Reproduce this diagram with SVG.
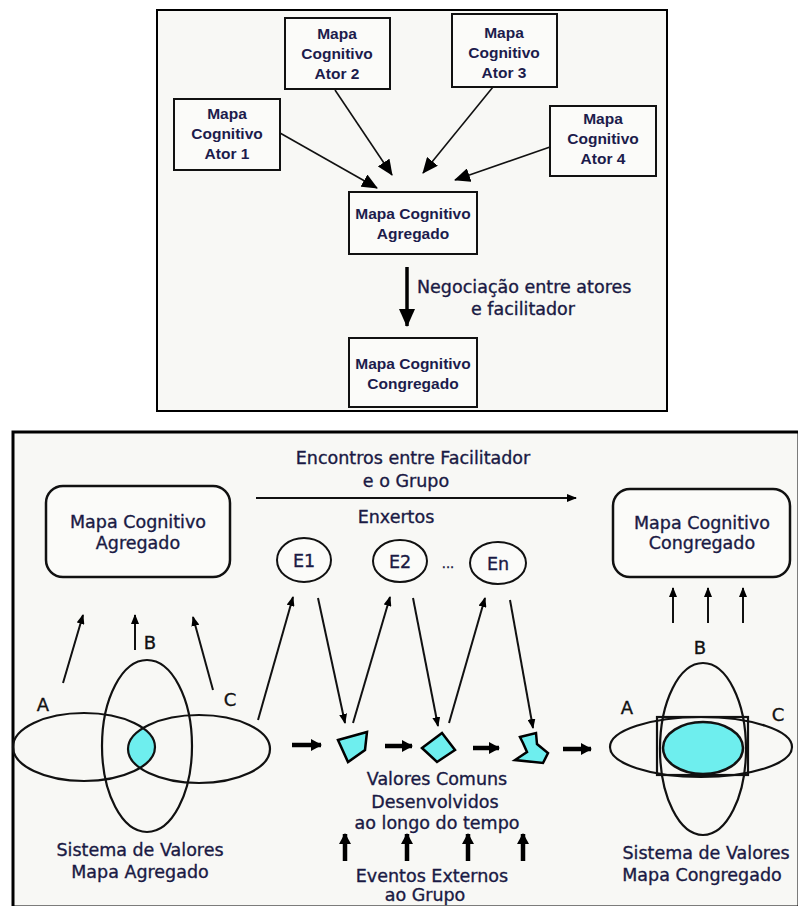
<svg xmlns="http://www.w3.org/2000/svg" width="798" height="906" viewBox="0 0 798 906">
  <style>
    .panel { fill: #f8f8f5; stroke: #000; }
    .box { fill: #fbfbf9; stroke: #111; stroke-width: 2; }
    .rbox { fill: #fbfbf9; stroke: #111; stroke-width: 2.5; }
    .t1 { font-family: "Liberation Sans", Arial, sans-serif; font-weight: bold; font-size: 15.5px; fill: #1c1c4c; text-anchor: middle; }
    .t2 { font-family: "DejaVu Sans", Verdana, sans-serif; font-size: 17.5px; fill: #1a1a44; stroke: #1a1a44; stroke-width: 0.35; text-anchor: middle; }
    .lbl { font-family: "DejaVu Sans", Verdana, sans-serif; font-size: 18px; fill: #111; stroke: #111; stroke-width: 0.35; text-anchor: middle; }
    .thin { fill: none; stroke: #111; stroke-width: 1.6; }
    .line { fill: none; stroke: #111; stroke-width: 2; }
    .thick { fill: none; stroke: #000; stroke-width: 4.5; }
    .venn { fill: none; stroke: #111; stroke-width: 2.2; }
    .cyan { fill: #6eeeee; }
  </style>
  <defs>
    <marker id="headL" markerUnits="userSpaceOnUse" viewBox="0 0 16 14" markerWidth="16" markerHeight="14" refX="15" refY="7" orient="auto">
      <path d="M0,0 L16,7 L0,14 z" fill="#000"/>
    </marker>
    <marker id="headN" markerUnits="userSpaceOnUse" viewBox="0 0 18 16" markerWidth="18" markerHeight="16" refX="17" refY="8" orient="auto">
      <path d="M0,0 L18,8 L0,16 z" fill="#000"/>
    </marker>
    <marker id="headS" markerUnits="userSpaceOnUse" viewBox="0 0 10 8" markerWidth="10" markerHeight="8" refX="9" refY="4" orient="auto">
      <path d="M0,0 L10,4 L0,8 z" fill="#000"/>
    </marker>
    <marker id="headB" markerUnits="userSpaceOnUse" viewBox="0 0 11 12" markerWidth="11" markerHeight="12" refX="10" refY="6" orient="auto">
      <path d="M0,0 L11,6 L0,12 z" fill="#000"/>
    </marker>
    <clipPath id="clipA">
      <ellipse cx="84" cy="747" rx="71" ry="34"/>
    </clipPath>
  </defs>

  <rect width="798" height="906" fill="#fff"/>

  <!-- upper panel: individual maps merged into the aggregated map -->
  <rect class="panel" x="157" y="10" width="510" height="401" stroke-width="2"/>

  <g id="ator1">
    <rect class="box" x="174" y="99" width="106" height="71"/>
    <text class="t1" x="227" y="119">Mapa</text>
    <text class="t1" x="227" y="139">Cognitivo</text>
    <text class="t1" x="227" y="159">Ator 1</text>
  </g>
  <g id="ator2">
    <rect class="box" x="285" y="18" width="105" height="71"/>
    <text class="t1" x="337" y="39">Mapa</text>
    <text class="t1" x="337" y="59">Cognitivo</text>
    <text class="t1" x="337" y="79">Ator 2</text>
  </g>
  <g id="ator3">
    <rect class="box" x="452" y="14" width="105" height="73"/>
    <text class="t1" x="504" y="38">Mapa</text>
    <text class="t1" x="504" y="58">Cognitivo</text>
    <text class="t1" x="504" y="78">Ator 3</text>
  </g>
  <g id="ator4">
    <rect class="box" x="550" y="106" width="106" height="70"/>
    <text class="t1" x="603" y="124">Mapa</text>
    <text class="t1" x="603" y="144">Cognitivo</text>
    <text class="t1" x="603" y="164">Ator 4</text>
  </g>
  <g id="agregado-top">
    <rect class="box" x="349" y="192" width="128" height="62"/>
    <text class="t1" x="413" y="219">Mapa Cognitivo</text>
    <text class="t1" x="413" y="239">Agregado</text>
  </g>
  <g id="congregado-top">
    <rect class="box" x="349" y="338" width="128" height="69"/>
    <text class="t1" x="413" y="369">Mapa Cognitivo</text>
    <text class="t1" x="413" y="389">Congregado</text>
  </g>
  <g id="negociacao-label">
    <text class="t2" x="417" y="293" style="text-anchor:start">Negociação entre atores</text>
    <text class="t2" x="523" y="315">e facilitador</text>
  </g>

  <g id="connectors-top">
    <line class="thin" x1="280" y1="133" x2="377" y2="188" marker-end="url(#headL)"/>
    <line class="thin" x1="335" y1="90" x2="392" y2="175" marker-end="url(#headL)"/>
    <line class="thin" x1="493" y1="87" x2="423" y2="173" marker-end="url(#headL)"/>
    <line class="thin" x1="550" y1="147" x2="455" y2="180" marker-end="url(#headL)"/>
    <line x1="407" y1="267" x2="407" y2="326" stroke="#000" stroke-width="3.5" marker-end="url(#headN)"/>
  </g>

  <!-- lower panel: value systems converging through meetings -->
  <path class="panel" d="M13,906 V432 H798 V906 Z" stroke="none"/>
  <path d="M13,906 V432 H798" fill="none" stroke="#000" stroke-width="3"/>

  <g id="encontros-label">
    <text class="t2" x="413" y="464">Encontros entre Facilitador</text>
    <text class="t2" x="406" y="487">e o Grupo</text>
    <text class="t2" x="396" y="523">Enxertos</text>
  </g>

  <g id="agregado">
    <rect class="rbox" x="46" y="486" width="184" height="91" rx="17"/>
    <text class="t2" x="138" y="528">Mapa Cognitivo</text>
    <text class="t2" x="138" y="549">Agregado</text>
  </g>
  <g id="congregado">
    <rect class="rbox" x="613" y="489" width="177" height="88" rx="17"/>
    <text class="t2" x="702" y="529">Mapa Cognitivo</text>
    <text class="t2" x="702" y="549">Congregado</text>
  </g>

  <g id="e1">
    <ellipse cx="304" cy="560" rx="27" ry="22" class="box"/>
    <text class="t2" x="304" y="567">E1</text>
  </g>
  <g id="e2">
    <ellipse cx="400" cy="561" rx="27" ry="21" class="box"/>
    <text class="t2" x="400" y="568">E2</text>
  </g>
  <text class="t2" x="448" y="568" style="font-size:13px">...</text>
  <g id="en">
    <ellipse cx="498" cy="563" rx="28" ry="21" class="box"/>
    <text class="t2" x="498" y="570">En</text>
  </g>

  <g id="venn-agregado">
    <path class="cyan" clip-path="url(#clipA)" d="M128,749 a71,34 0 1,0 142,0 a71,34 0 1,0 -142,0 z"/>
    <ellipse class="venn" cx="84" cy="747" rx="71" ry="34"/>
    <ellipse class="venn" cx="199" cy="749" rx="71" ry="34"/>
    <ellipse class="venn" cx="147" cy="746" rx="45" ry="86"/>
    <text class="lbl" x="43" y="711">A</text>
    <text class="lbl" x="150" y="649">B</text>
    <text class="lbl" x="230" y="706">C</text>
    <text class="t2" x="140" y="856">Sistema de Valores</text>
    <text class="t2" x="140" y="878">Mapa Agregado</text>
  </g>

  <g id="venn-congregado">
    <ellipse class="venn" cx="701" cy="747" rx="91" ry="30"/>
    <ellipse class="venn" cx="703" cy="749" rx="43" ry="86"/>
    <rect class="venn" x="657" y="717" width="91" height="58"/>
    <ellipse class="cyan" cx="703" cy="748" rx="40" ry="26" stroke="#111" stroke-width="2.5"/>
    <text class="lbl" x="627" y="714">A</text>
    <text class="lbl" x="700" y="654">B</text>
    <text class="lbl" x="778" y="721">C</text>
    <text class="t2" x="706" y="859">Sistema de Valores</text>
    <text class="t2" x="702" y="881">Mapa Congregado</text>
  </g>

  <g id="valores-comuns">
    <polygon class="cyan" points="338,740 367,732 365,750 348,762" stroke="#000" stroke-width="2.5"/>
    <polygon class="cyan" points="422,748 442,733 455,750 437,762" stroke="#000" stroke-width="2.5"/>
    <polygon class="cyan" points="520,737 536,733 537,744 548,753 543,763 515,760 527,752 523,743" stroke="#000" stroke-width="2.5"/>
    <text class="t2" x="437" y="785">Valores Comuns</text>
    <text class="t2" x="435" y="808">Desenvolvidos</text>
    <text class="t2" x="437" y="829">ao longo do tempo</text>
  </g>

  <g id="eventos-label">
    <text class="t2" x="432" y="882">Eventos Externos</text>
    <text class="t2" x="425" y="901">ao Grupo</text>
  </g>

  <g id="connectors">
    <line class="line" x1="256" y1="498" x2="576" y2="498" marker-end="url(#headS)"/>
    <line class="line" x1="63" y1="683" x2="83" y2="615" marker-end="url(#headS)"/>
    <line class="line" x1="135" y1="650" x2="135" y2="615" marker-end="url(#headS)"/>
    <line class="line" x1="213" y1="690" x2="193" y2="617" marker-end="url(#headS)"/>
    <line class="line" x1="258" y1="720" x2="293" y2="597" marker-end="url(#headS)"/>
    <line class="line" x1="318" y1="598" x2="345" y2="723" marker-end="url(#headS)"/>
    <line class="line" x1="353" y1="723" x2="390" y2="597" marker-end="url(#headS)"/>
    <line class="line" x1="413" y1="598" x2="438" y2="726" marker-end="url(#headS)"/>
    <line class="line" x1="449" y1="723" x2="485" y2="598" marker-end="url(#headS)"/>
    <line class="line" x1="510" y1="600" x2="533" y2="728" marker-end="url(#headS)"/>
    <line class="line" x1="673" y1="623" x2="673" y2="588" marker-end="url(#headS)"/>
    <line class="line" x1="708" y1="623" x2="708" y2="588" marker-end="url(#headS)"/>
    <line class="line" x1="743" y1="623" x2="743" y2="588" marker-end="url(#headS)"/>
    <line class="thick" x1="292" y1="745" x2="321" y2="745" marker-end="url(#headB)"/>
    <line class="thick" x1="385" y1="746" x2="412" y2="746" marker-end="url(#headB)"/>
    <line class="thick" x1="473" y1="748" x2="499" y2="748" marker-end="url(#headB)"/>
    <line class="thick" x1="563" y1="749" x2="591" y2="749" marker-end="url(#headB)"/>
    <line class="thick" x1="345" y1="861" x2="345" y2="834" marker-end="url(#headB)"/>
    <line class="thick" x1="407" y1="861" x2="407" y2="834" marker-end="url(#headB)"/>
    <line class="thick" x1="468" y1="861" x2="468" y2="834" marker-end="url(#headB)"/>
    <line class="thick" x1="523" y1="861" x2="523" y2="834" marker-end="url(#headB)"/>
  </g>
</svg>
